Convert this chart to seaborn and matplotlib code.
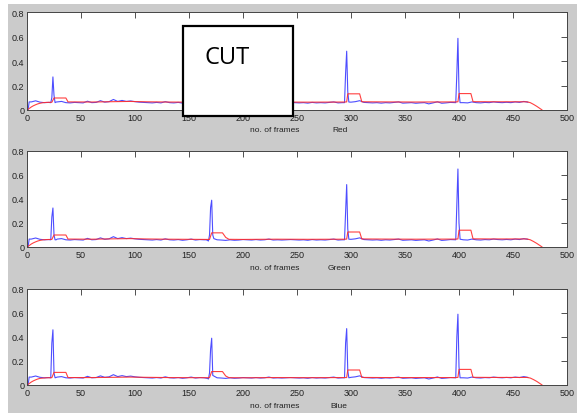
import matplotlib
matplotlib.use("Agg")
import numpy as np
import pandas as pd
import matplotlib.pyplot as plt
import seaborn as sns
from matplotlib import font_manager
from matplotlib.patches import Rectangle

# ---------------- data ----------------
channels = ["Red", "Green", "Blue"]
x_ticks = [0, 50, 100, 150, 200, 250, 300, 350, 400, 450, 500]
y_ticks = [0, 0.2, 0.4, 0.6, 0.8]
y_tick_labels = ["0", "0.2", "0.4", "0.6", "0.8"]
x_label = "no. of frames"

# frame-difference (blue) baseline, sampled every 4 frames (0..464)
base_frames = list(range(0, 468, 4))
base_values = [
    0.000, 0.066, 0.075, 0.064, 0.060, 0.062, 0.060, 0.066, 0.070, 0.060,
    0.058, 0.062, 0.060, 0.058, 0.072, 0.060, 0.062, 0.076, 0.064, 0.068,
    0.086, 0.070, 0.078, 0.070, 0.074, 0.068, 0.064, 0.062, 0.060, 0.058,
    0.062, 0.058, 0.068, 0.060, 0.058, 0.062, 0.056, 0.060, 0.066, 0.058,
    0.062, 0.060, 0.058, 0.060, 0.060, 0.058, 0.055, 0.060, 0.056, 0.058,
    0.062, 0.060, 0.058, 0.062, 0.058, 0.060, 0.066, 0.058, 0.060, 0.058,
    0.060, 0.062, 0.060, 0.058, 0.060, 0.056, 0.062, 0.058, 0.060, 0.058,
    0.062, 0.066, 0.058, 0.060, 0.060, 0.064, 0.068, 0.076, 0.062, 0.060,
    0.058, 0.060, 0.056, 0.060, 0.058, 0.062, 0.066, 0.056, 0.058, 0.060,
    0.055, 0.058, 0.060, 0.050, 0.058, 0.067, 0.055, 0.058, 0.062, 0.060,
    0.060, 0.060, 0.058, 0.066, 0.060, 0.058, 0.062, 0.060, 0.066, 0.062,
    0.060, 0.063, 0.060, 0.066, 0.062, 0.070, 0.063,
]

# start of sequence (shared)
start_frames = [0, 1, 2]
start_values = [0.000, 0.000, 0.066]

# spikes (blue line) per channel
red_spike_frames = [[22, 23, 24, 25, 26, 27],
                    [294, 295, 296, 297, 298],
                    [397, 398, 399, 400, 401]]
red_spike_values = [[0.060, 0.100, 0.270, 0.120, 0.060, 0.065],
                    [0.060, 0.300, 0.480, 0.150, 0.065],
                    [0.060, 0.300, 0.585, 0.150, 0.060]]

green_spike_frames = [[22, 23, 24, 25, 26, 27],
                      [166, 167, 168, 169, 170, 171, 172, 173],
                      [294, 295, 296, 297, 298],
                      [397, 398, 399, 400, 401]]
green_spike_values = [[0.060, 0.250, 0.325, 0.100, 0.060, 0.060],
                      [0.060, 0.055, 0.050, 0.100, 0.330, 0.390, 0.100, 0.070],
                      [0.060, 0.300, 0.520, 0.150, 0.065],
                      [0.060, 0.350, 0.650, 0.200, 0.065]]

blue_spike_frames = [[22, 23, 24, 25, 26],
                     [167, 168, 169, 170, 171, 172],
                     [294, 295, 296, 297, 298],
                     [397, 398, 399, 400, 401]]
blue_spike_values = [[0.060, 0.350, 0.460, 0.100, 0.060],
                     [0.055, 0.050, 0.100, 0.300, 0.390, 0.080],
                     [0.060, 0.350, 0.470, 0.120, 0.060],
                     [0.060, 0.400, 0.590, 0.150, 0.060]]

# adaptive threshold (red line)
thr_frames = [0, 2, 4, 6, 8, 10, 12, 15, 18, 22,
              23, 25, 36, 38, 40,
              60, 80, 95, 110, 130, 150, 168,
              169, 171, 181, 184, 187,
              200, 230, 260, 294,
              296, 297, 308, 310,
              330, 360, 397,
              399, 400, 411, 413,
              430, 450, 463,
              466, 469, 472, 475, 477]
thr_red = [0.000, 0.012, 0.025, 0.035, 0.043, 0.050, 0.055, 0.060, 0.062, 0.063,
           0.063, 0.098, 0.098, 0.066, 0.066,
           0.065, 0.068, 0.070, 0.067, 0.065, 0.064, 0.063,
           0.063, 0.110, 0.110, 0.075, 0.064,
           0.063, 0.065, 0.064, 0.065,
           0.066, 0.132, 0.132, 0.067,
           0.066, 0.065, 0.066,
           0.067, 0.134, 0.134, 0.068,
           0.067, 0.067, 0.067,
           0.060, 0.046, 0.030, 0.012, 0.000]
thr_green = [0.000, 0.012, 0.025, 0.035, 0.043, 0.050, 0.055, 0.060, 0.062, 0.063,
             0.063, 0.100, 0.100, 0.066, 0.066,
             0.065, 0.068, 0.070, 0.067, 0.065, 0.064, 0.063,
             0.063, 0.118, 0.118, 0.080, 0.064,
             0.063, 0.065, 0.064, 0.065,
             0.066, 0.125, 0.125, 0.067,
             0.066, 0.065, 0.066,
             0.067, 0.140, 0.140, 0.068,
             0.067, 0.067, 0.067,
             0.060, 0.046, 0.030, 0.012, 0.000]
thr_blue = [0.000, 0.012, 0.025, 0.035, 0.043, 0.050, 0.055, 0.058, 0.060, 0.061,
            0.061, 0.105, 0.105, 0.062, 0.062,
            0.062, 0.064, 0.066, 0.064, 0.062, 0.061, 0.061,
            0.061, 0.112, 0.112, 0.075, 0.061,
            0.060, 0.062, 0.061, 0.062,
            0.062, 0.125, 0.125, 0.063,
            0.062, 0.062, 0.062,
            0.063, 0.130, 0.130, 0.064,
            0.063, 0.063, 0.063,
            0.058, 0.045, 0.030, 0.012, 0.000]

spikes = {"Red": (red_spike_frames, red_spike_values),
          "Green": (green_spike_frames, green_spike_values),
          "Blue": (blue_spike_frames, blue_spike_values)}
thresholds = {"Red": thr_red, "Green": thr_green, "Blue": thr_blue}


def build_diff(channel):
    fr_lists, va_lists = spikes[channel]
    fr_lists = [start_frames] + fr_lists
    va_lists = [start_values] + va_lists
    windows = [(min(f), max(f)) for f in fr_lists]
    rows = [(f, v) for f, v in zip(base_frames, base_values)
            if not any(a <= f <= b for a, b in windows)]
    for f_list, v_list in zip(fr_lists, va_lists):
        rows += list(zip(f_list, v_list))
    df = pd.DataFrame(rows, columns=["frame", "value"]).sort_values("frame")
    return df


# ---------------- style ----------------
sns.set_style("white")
names = {f.name for f in font_manager.fontManager.ttflist}
small_font = "Liberation Sans Narrow" if "Liberation Sans Narrow" in names else "Liberation Sans"
plt.rcParams["font.family"] = [small_font, "DejaVu Sans"]

W, H = 577, 414
fig = plt.figure(figsize=(W / 100, H / 100), dpi=100, facecolor="white")

# grey MATLAB-like figure background
fig.add_artist(Rectangle((8 / W, 0), 1 - 8 / W, 1 - 5 / H, transform=fig.transFigure,
                         facecolor="#cbcbcb", edgecolor="none", zorder=-10))

axes_px = [(13, 111), (152, 248), (290, 386)]  # (top, bottom) in pixels
label_y_px = [130, 268, 407]
chan_x_px = [332, 328, 330]
left_px, right_px = 27, 567

blue_col = "#3a3aff"
red_col = "#ff2b2b"

for ch, (top, bot), ly, cx in zip(channels, axes_px, label_y_px, chan_x_px):
    ax = fig.add_axes([left_px / W, 1 - bot / H, (right_px - left_px) / W, (bot - top) / H])
    ax.set_facecolor("white")
    d = build_diff(ch)
    sns.lineplot(data=d, x="frame", y="value", ax=ax, color=blue_col, linewidth=0.8,
                 estimator=None, sort=False, alpha=0.9)
    t = pd.DataFrame({"frame": thr_frames, "value": thresholds[ch]})
    sns.lineplot(data=t, x="frame", y="value", ax=ax, color=red_col, linewidth=0.8,
                 estimator=None, sort=False, alpha=0.9)
    ax.set_xlim(0, 500)
    ax.set_ylim(0, 0.8)
    ax.set_xticks(x_ticks)
    ax.set_yticks(y_ticks)
    ax.set_yticklabels(y_tick_labels)
    ax.set_xlabel("")
    ax.set_ylabel("")
    ax.tick_params(direction="in", top=True, right=True, length=4, width=0.6,
                   colors="#333333", labelsize=6.5, pad=2)
    ax.tick_params(axis="x", labelcolor="#222222")
    ax.tick_params(axis="y", labelcolor="#222222")
    for sp in ax.spines.values():
        sp.set_visible(True)
        sp.set_linewidth(0.7)
        sp.set_color("#444444")
    fig.text(250 / W, 1 - ly / H, x_label, fontsize=6, color="#222222",
             ha="left", va="center")
    fig.text(cx / W, 1 - ly / H, ch, fontsize=6, color="#222222",
             ha="left", va="center")

# "CUT" annotation box
fig.add_artist(Rectangle((183 / W, 1 - 117 / H), 110 / W, 90 / H, transform=fig.transFigure,
                         facecolor="white", edgecolor="black", linewidth=1.6, zorder=20))
fig.text(205 / W, 1 - 58 / H, "CUT", fontsize=17, family=["Open Sans", "DejaVu Sans"],
         color="black", ha="left", va="center", zorder=21)

fig.savefig("out.png", dpi=100, facecolor="white")
